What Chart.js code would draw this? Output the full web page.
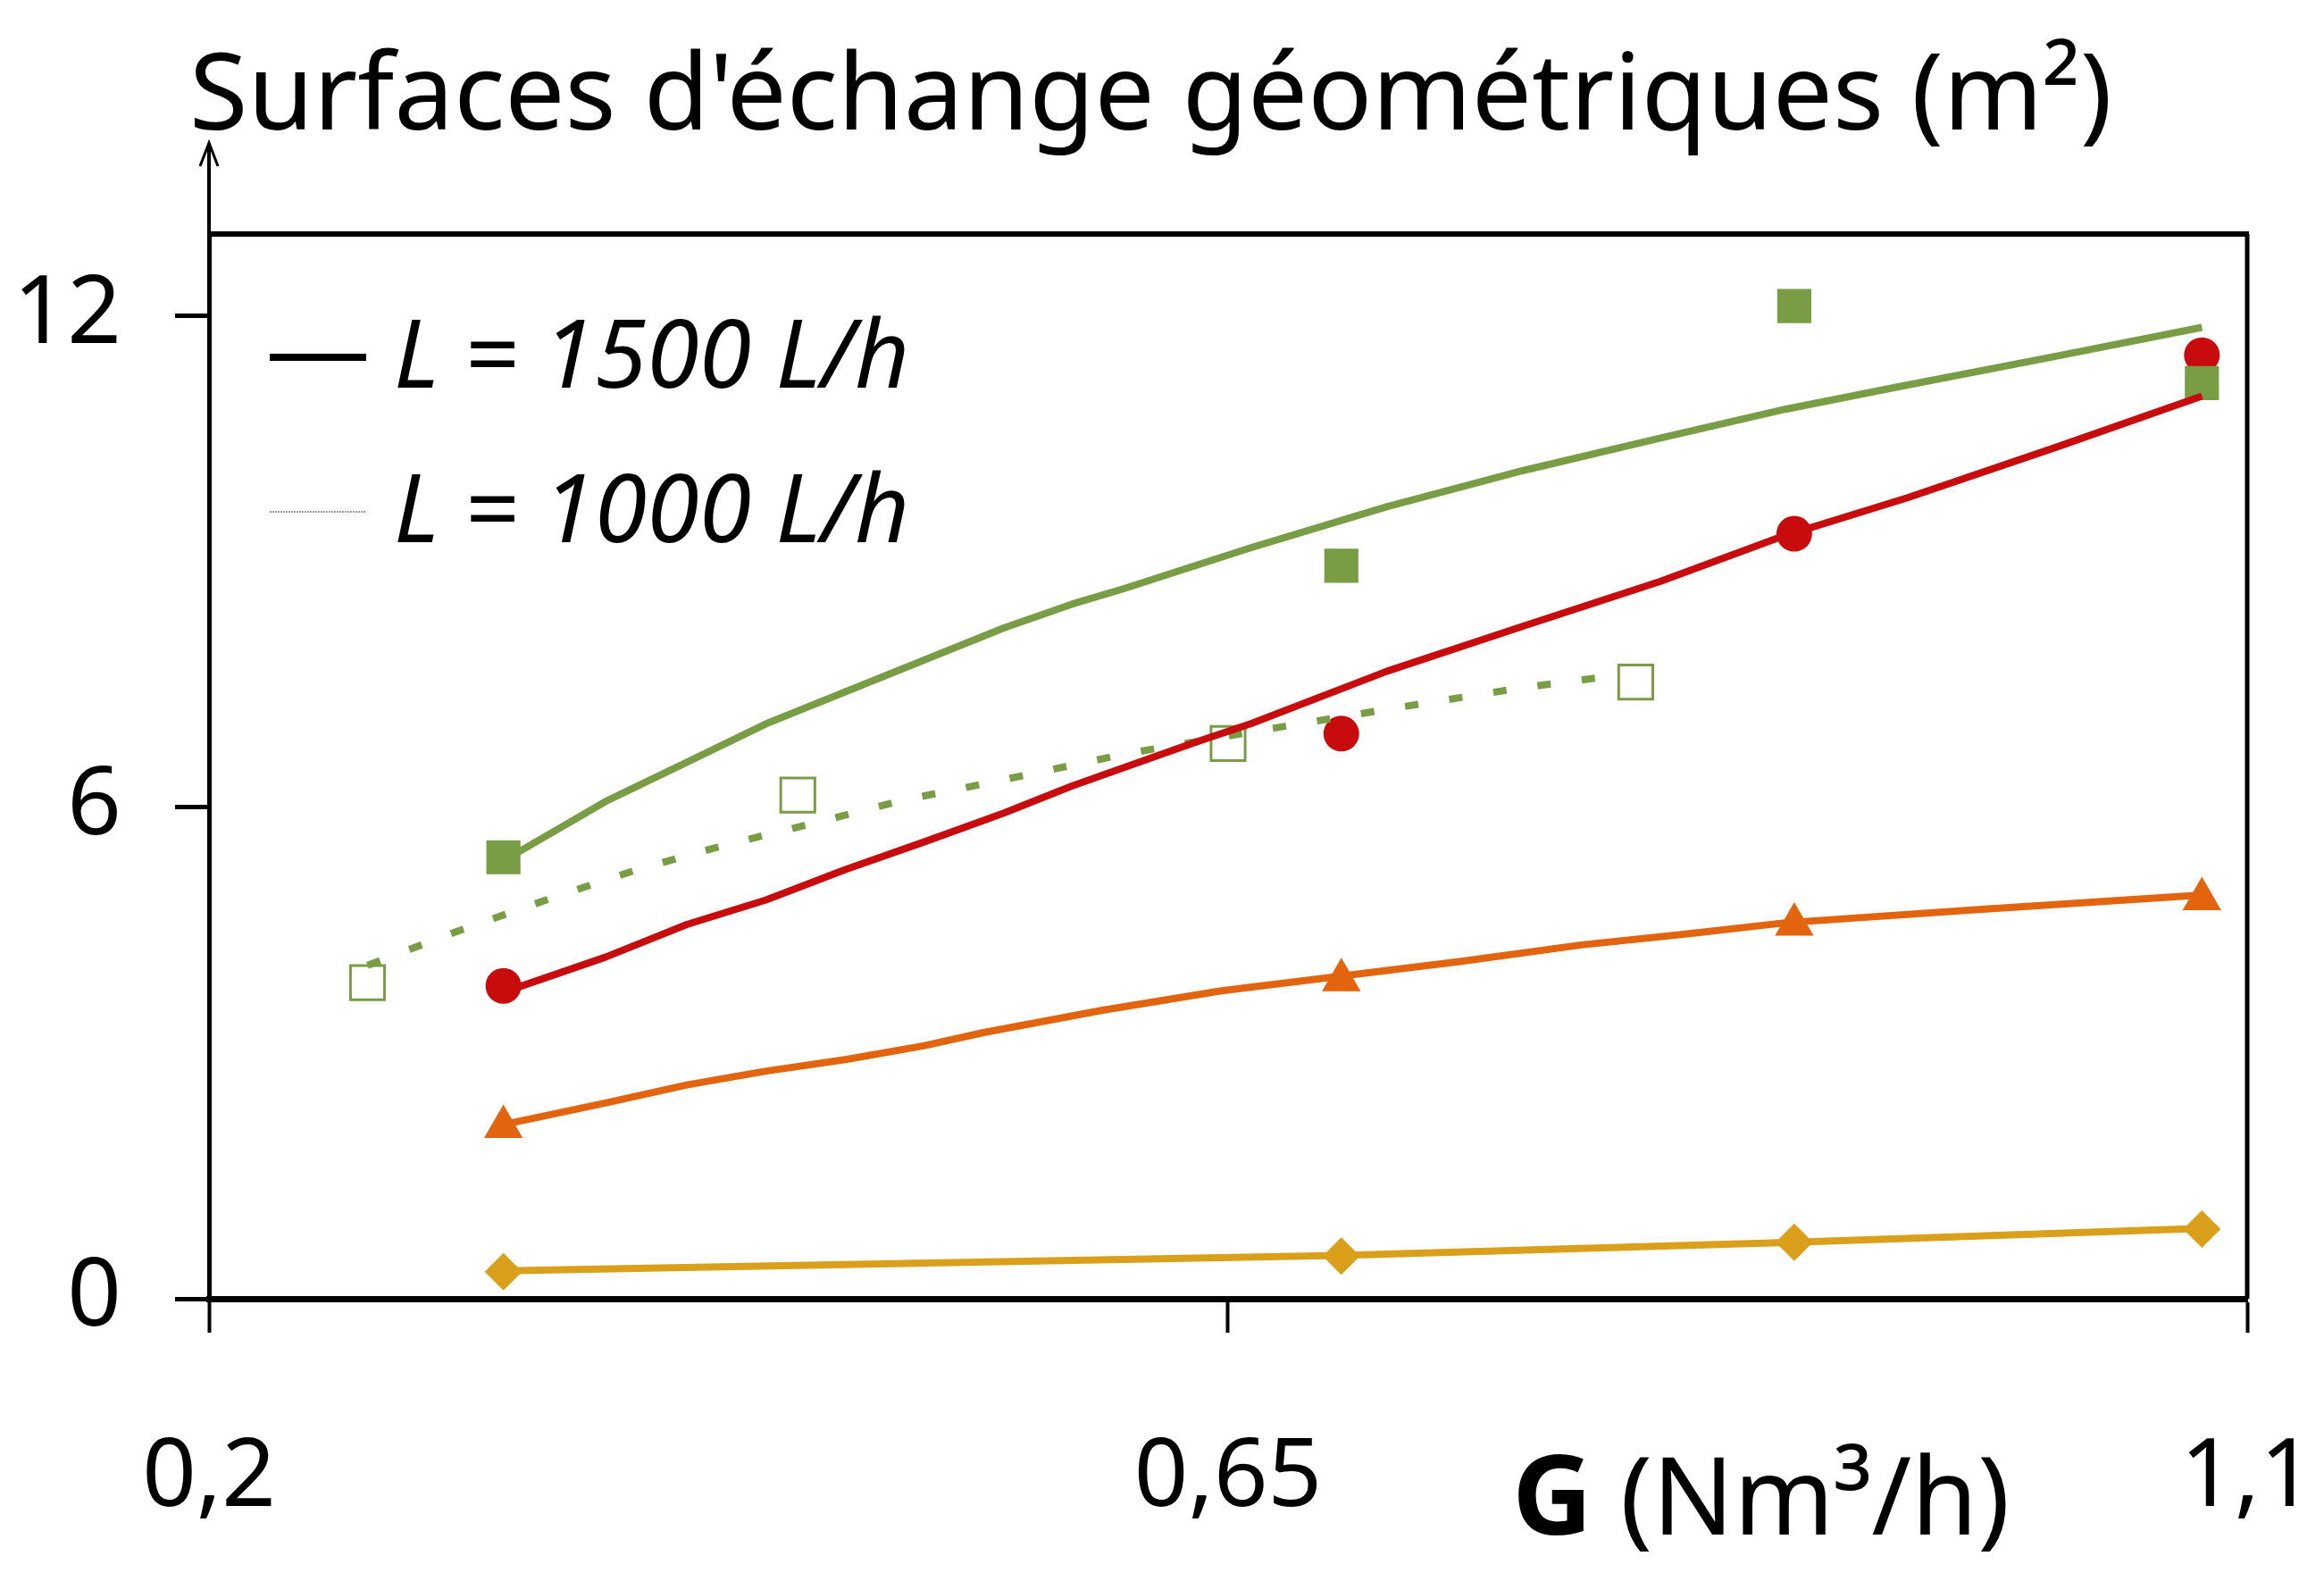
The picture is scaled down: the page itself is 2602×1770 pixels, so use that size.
<!DOCTYPE html>
<html>
<head>
<meta charset="utf-8">
<script src="https://cdn.jsdelivr.net/npm/chart.js@4.4.1/dist/chart.umd.min.js"></script>
<style>
html,body{margin:0;padding:0;background:#ffffff;}
#wrap{width:2602px;height:1770px;position:relative;}
</style>
</head>
<body>
<div id="wrap"><canvas id="c" width="2602" height="1770"></canvas></div>
<script>
// ---------- texts ----------
const TITLE = "Surfaces d'échange géométriques (m²)";
const X_TITLE_BOLD = "G";
const X_TITLE_REST = " (Nm³/h)";
const LEGEND_LABELS = ["L = 1500 L/h", "L = 1000 L/h"];

// ---------- ticks ----------
const X_TICKS = [0.2, 0.65, 1.1];
const X_TICK_LABELS = ["0,2", "0,65", "1,1"];
const Y_TICKS = [0, 6, 12];
const Y_TICK_LABELS = ["0", "6", "12"];

// ---------- experimental points, L = 1500 L/h ----------
const G_EXP = [0.33, 0.70, 0.90, 1.08];
const S_SQUARE = [5.39, 8.95, 12.12, 11.18];
const S_CIRCLE = [3.82, 6.90, 9.34, 11.52];
const S_TRIANGLE = [2.10, 3.89, 4.57, 4.88];
const S_DIAMOND = [0.33, 0.52, 0.69, 0.85];

// ---------- experimental points, L = 1000 L/h ----------
const G_EXP_1000 = [0.27, 0.46, 0.65, 0.83];
const S_OPEN_SQUARE = [3.86, 6.15, 6.78, 7.53];

// ---------- model curves, L = 1500 L/h ----------
const G_MOD_SQUARE = [0.33, 0.337, 0.375, 0.411, 0.446, 0.481, 0.516, 0.551, 0.581, 0.604, 0.66, 0.72, 0.78, 0.841, 0.896, 0.945, 1.016, 1.08];
const S_MOD_SQUARE = [5.40, 5.46, 6.07, 6.55, 7.02, 7.41, 7.80, 8.19, 8.48, 8.67, 9.17, 9.67, 10.11, 10.51, 10.86, 11.13, 11.51, 11.86];

const G_MOD_CIRCLE = [0.334, 0.375, 0.411, 0.446, 0.481, 0.516, 0.551, 0.581, 0.635, 0.66, 0.72, 0.78, 0.841, 0.895, 0.95, 1.016, 1.08];
const S_MOD_CIRCLE = [3.78, 4.17, 4.57, 4.87, 5.24, 5.58, 5.93, 6.26, 6.79, 7.02, 7.66, 8.21, 8.76, 9.31, 9.78, 10.40, 11.02];

const G_MOD_TRIANGLE = [0.334, 0.375, 0.411, 0.446, 0.481, 0.516, 0.542, 0.594, 0.647, 0.70, 0.753, 0.806, 0.851, 0.896, 0.98, 1.08];
const S_MOD_TRIANGLE = [2.15, 2.39, 2.61, 2.78, 2.92, 3.09, 3.25, 3.52, 3.76, 3.94, 4.12, 4.32, 4.45, 4.59, 4.75, 4.93];

const G_MOD_DIAMOND = [0.33, 0.70, 0.90, 1.08];
const S_MOD_DIAMOND = [0.34, 0.53, 0.69, 0.86];

// ---------- model curve, L = 1000 L/h ----------
const G_MOD_1000 = [0.27, 0.309, 0.349, 0.389, 0.428, 0.469, 0.507, 0.548, 0.606, 0.644, 0.66, 0.723, 0.78, 0.824];
const S_MOD_1000 = [4.07, 4.48, 4.87, 5.24, 5.54, 5.82, 6.09, 6.32, 6.66, 6.84, 6.92, 7.21, 7.46, 7.62];

// ---------- colours ----------
const GREEN = "#789D45";
const RED = "#C80C0E";
const ORANGE = "#E3640F";
const GOLD = "#DAA01B";

function pts(xs, ys) { return xs.map((x, i) => ({ x: x, y: ys[i] })); }

function lineSet(xs, ys, color, extra) {
  return Object.assign({
    data: pts(xs, ys), showLine: true, borderColor: color, backgroundColor: color,
    borderWidth: 8, pointRadius: 0, pointHoverRadius: 0, tension: 0, fill: false, clip: false,
    borderJoinStyle: "round"
  }, extra || {});
}
function markerSet(xs, ys, color, style, radius, extra) {
  return Object.assign({
    data: pts(xs, ys), showLine: false, pointStyle: style, pointRadius: radius,
    pointHoverRadius: radius, backgroundColor: color, borderColor: color, pointBorderWidth: 0, clip: false
  }, extra || {});
}

const decorations = {
  id: "decorations",
  beforeDraw(chart) {
    const ctx = chart.ctx;
    ctx.save();
    ctx.fillStyle = "#ffffff";
    ctx.fillRect(0, 0, chart.width, chart.height);
    ctx.restore();
  },
  afterDraw(chart) {
    const ctx = chart.ctx;
    const a = chart.chartArea;
    ctx.save();
    ctx.strokeStyle = "#000";
    ctx.lineCap = "butt";
    // top frame line
    ctx.lineWidth = 6;
    ctx.beginPath(); ctx.moveTo(a.left - 2, a.top); ctx.lineTo(a.right + 2, a.top); ctx.stroke();
    // right frame line
    ctx.lineWidth = 5;
    ctx.beginPath(); ctx.moveTo(a.right, a.top); ctx.lineTo(a.right, a.bottom); ctx.stroke();
    // y axis arrow above the frame
    ctx.lineWidth = 4;
    ctx.beginPath(); ctx.moveTo(a.left, a.top); ctx.lineTo(a.left, a.top - 100); ctx.stroke();
    ctx.lineWidth = 3;
    ctx.beginPath();
    ctx.moveTo(a.left - 10, a.top - 76); ctx.lineTo(a.left, a.top - 102); ctx.lineTo(a.left + 10, a.top - 76);
    ctx.stroke();

    // title
    ctx.fillStyle = "#000";
    ctx.textBaseline = "alphabetic";
    ctx.textAlign = "left";
    let fs = 124;
    ctx.font = fs + "px 'Noto Sans'";
    const w = ctx.measureText(TITLE).width;
    const target = 2153;
    fs = Math.min(130, fs * target / w);
    ctx.font = fs + "px 'Noto Sans'";
    ctx.fillText(TITLE, a.left - 22, a.top - 117);

    // x axis title
    ctx.font = "bold 124px 'Noto Sans'";
    const gx = 1693, gy = 1718;
    ctx.fillText(X_TITLE_BOLD, gx, gy);
    const gw = ctx.measureText(X_TITLE_BOLD).width;
    ctx.font = "120px 'Noto Sans'";
    ctx.fillText(X_TITLE_REST, gx + gw, gy);

    // legend
    const legendY = [a.top + 138, a.top + 311];
    ctx.font = "italic 106px 'Noto Sans'";
    ctx.textBaseline = "middle";
    LEGEND_LABELS.forEach((lab, i) => {
      const y = legendY[i];
      ctx.beginPath();
      if (i === 0) { ctx.strokeStyle = "#000"; ctx.lineWidth = 8; ctx.setLineDash([]); }
      else { ctx.strokeStyle = "#9a9a9a"; ctx.lineWidth = 2; ctx.setLineDash([2, 1]); }
      ctx.moveTo(a.left + 68, y); ctx.lineTo(a.left + 176, y); ctx.stroke();
      ctx.setLineDash([]);
      ctx.fillStyle = "#000";
      ctx.fillText(lab, a.left + 207, y + 4);
    });
    ctx.restore();
  }
};

const chart = new Chart(document.getElementById("c"), {
  type: "scatter",
  data: {
    datasets: [
      lineSet(G_MOD_SQUARE, S_MOD_SQUARE, GREEN),
      lineSet(G_MOD_CIRCLE, S_MOD_CIRCLE, RED),
      lineSet(G_MOD_TRIANGLE, S_MOD_TRIANGLE, ORANGE),
      lineSet(G_MOD_DIAMOND, S_MOD_DIAMOND, GOLD),
      lineSet(G_MOD_1000, S_MOD_1000, GREEN, { borderWidth: 8, borderDash: [15, 35], borderCapStyle: "butt" }),
      markerSet(G_EXP, S_SQUARE, GREEN, "rect", 27),
      markerSet(G_EXP, S_CIRCLE, RED, "circle", 20),
      markerSet(G_EXP, S_TRIANGLE, ORANGE, "triangle", 25),
      markerSet(G_EXP, S_DIAMOND, GOLD, "rectRot", 21),
      markerSet(G_EXP_1000, S_OPEN_SQUARE, "rgba(255,255,255,0)", "rect", 27, { borderColor: GREEN, pointBorderWidth: 3 })
    ]
  },
  options: {
    responsive: false,
    animation: false,
    devicePixelRatio: 1,
    layout: { padding: { left: 0, top: 262, right: 86, bottom: 0 } },
    plugins: { legend: { display: false }, title: { display: false }, tooltip: { enabled: false } },
    events: [],
    scales: {
      x: {
        type: "linear",
        min: 0.2, max: 1.1,
        afterBuildTicks: s => { s.ticks = X_TICKS.map(v => ({ value: v })); },
        afterFit: s => { s.height = 316; s.paddingLeft = 0; s.paddingRight = 0; },
        grid: { display: true, drawOnChartArea: false, drawTicks: true, tickLength: 38, tickWidth: 4, tickColor: "#000" },
        border: { display: true, color: "#000", width: 7 },
        ticks: {
          autoSkip: false, maxRotation: 0, padding: 100, color: "#000",
          font: { family: "'Noto Sans'", size: 106 },
          callback: (v, i) => X_TICK_LABELS[i]
        }
      },
      y: {
        type: "linear",
        min: 0, max: 13,
        afterBuildTicks: s => { s.ticks = Y_TICKS.map(v => ({ value: v })); },
        afterFit: s => { s.width = 234; s.paddingTop = 0; s.paddingBottom = 0; },
        grid: { display: true, drawOnChartArea: false, drawTicks: true, tickLength: 38, tickWidth: 5, tickColor: "#000" },
        border: { display: true, color: "#000", width: 5 },
        ticks: {
          autoSkip: false, padding: 60, color: "#000",
          font: { family: "'Noto Sans'", size: 106 },
          callback: (v, i) => Y_TICK_LABELS[i]
        }
      }
    }
  },
  plugins: [decorations]
});
</script>
</body>
</html>
